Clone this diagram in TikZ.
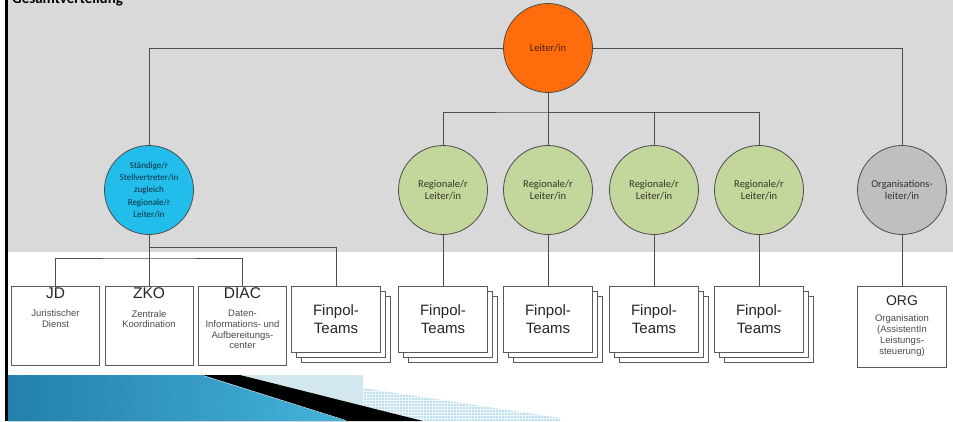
\documentclass[tikz,border=0pt]{standalone}
\usepackage{fontspec}
\setmainfont{Liberation Sans}
\newfontfamily\circlefont{Carlito}
\usetikzlibrary{positioning,shadows,patterns}

\definecolor{bandgray}{HTML}{D9D9D9}
\definecolor{edgegray}{HTML}{4D4D4D}
\definecolor{boxgray}{HTML}{5A5A5A}
\definecolor{headorange}{HTML}{FF6C0C}
\definecolor{deputycyan}{HTML}{22BDEB}
\definecolor{regiongreen}{HTML}{C3D69B}
\definecolor{orggray}{HTML}{BFBFBF}
\definecolor{stripeblue}{HTML}{1E78A4}
\definecolor{stripelight}{HTML}{45B4DA}
\definecolor{paleblue}{HTML}{D3E7EF}
\definecolor{checkblue}{HTML}{BFE0EE}

\begin{document}
\begin{tikzpicture}[
    x=1pt, y=-1pt,
    link/.style={draw=edgegray, line width=0.9pt},
    person/.style={draw=edgegray, circle, line width=0.8pt, minimum size=89pt, inner sep=0pt, align=center, font=\circlefont\fontsize{10.5}{11.5}\selectfont},
    headcircle/.style={person, fill=headorange, text=black!70!headorange},
    deputycircle/.style={person, fill=deputycyan, text=black!75!deputycyan, font=\circlefont\fontsize{9}{12.2}\selectfont},
    regioncircle/.style={person, fill=regiongreen, text=black!75!regiongreen},
    orgcircle/.style={person, fill=orggray, text=black!80},
    unitbox/.style={draw=boxgray, fill=white, line width=0.8pt, minimum width=88pt, minimum height=79pt, inner sep=0pt},
    unithead/.style={inner sep=0pt, font=\fontsize{15.5}{16}\selectfont, text=black!85},
    unitsub/.style={inner sep=0pt, align=center, font=\fontsize{9.5}{10.7}\selectfont, text=black!70},
    teams/.style={unitbox, minimum width=89pt, minimum height=66pt, align=center, font=\fontsize{15}{17.3}\selectfont, text=black!85,
        copy shadow={shadow xshift=10pt, shadow yshift=-10pt, draw=boxgray, fill=white, line width=0.8pt},
        copy shadow={shadow xshift=5pt, shadow yshift=-5pt, draw=boxgray, fill=white, line width=0.8pt}}
]
\useasboundingbox (0,0) rectangle (953,421);
\clip (0,0) rectangle (953,421);
\fill[white] (0,0) rectangle (953,421);
\fill[bandgray] (8,0) rectangle (953,252);
\draw[black, line width=3pt] (6.5,0) -- (6.5,421);
\node[anchor=base west, inner sep=0pt, font=\circlefont\bfseries\fontsize{15}{15}\selectfont] (title) at (12,3.5) {Gesamtverteilung};

% footer band
\fill[left color=stripeblue, right color=stripelight] (8,375) -- (202,375) -- (347,421) -- (8,421) -- cycle;
\fill[pattern=north west lines, pattern color=stripelight, opacity=0.45] (8,375) -- (202,375) -- (347,421) -- (8,421) -- cycle;
\fill[paleblue] (240,375) -- (363,375) -- (363,406) -- cycle;
\fill[checkblue] (363,388) -- (560,418) -- (560,421) -- (423,421) -- (363,406) -- cycle;
\fill[pattern=grid, pattern color=white, opacity=0.7] (363,388) -- (560,418) -- (560,421) -- (423,421) -- (363,406) -- cycle;
\fill[black] (202,375) -- (240,375) -- (423,421) -- (347,421) -- cycle;
\draw[white!60!stripelight, line width=0.6pt] (203,375.5) -- (346,420.5);

\node[headcircle] (head) at (548,48) {Leiter/in};
\node[deputycircle] (deputy) at (149,190) {Ständige/r\\Stellvertreter/in\\zugleich\\Regionale/r\\Leiter/in};
\node[regioncircle] (reg1) at (443,190) {Regionale/r\\Leiter/in};
\node[regioncircle] (reg2) at (548,190) {Regionale/r\\Leiter/in};
\node[regioncircle] (reg3) at (654,190) {Regionale/r\\Leiter/in};
\node[regioncircle] (reg4) at (759,190) {Regionale/r\\Leiter/in};
\node[orgcircle] (orglead) at (902,190) {Organisations-\\leiter/in};

\node[unitbox] (jd) at (55.5,325.5) {};
\node[unithead, below=2pt of jd.north] (jdhead) {JD};
\node[unitsub, below=11pt of jdhead] (jdsub) {Juristischer\\Dienst};
\node[unitbox] (zko) at (149,325.5) {};
\node[unithead, below=2pt of zko.north] (zkohead) {ZKO};
\node[unitsub, below=11pt of zkohead] (zkosub) {Zentrale\\Koordination};
\node[unitbox] (diac) at (242.5,325.5) {};
\node[unithead, below=2pt of diac.north] (diachead) {DIAC};
\node[unitsub, below=11pt of diachead] (diacsub) {Daten-\\Informations- und\\Aufbereitungs-\\center};

\node[teams] (team0) at (336,319) {Finpol-\\Teams};
\node[teams] (team1) at (443,319) {Finpol-\\Teams};
\node[teams] (team2) at (548,319) {Finpol-\\Teams};
\node[teams] (team3) at (654,319) {Finpol-\\Teams};
\node[teams] (team4) at (759,319) {Finpol-\\Teams};

\node[unitbox, minimum width=89pt, minimum height=81pt] (org) at (902,326.5) {};
\node[unithead, font=\fontsize{14}{14}\selectfont, below=10pt of org.north] (orghead) {ORG};
\node[unitsub, font=\fontsize{9.5}{11}\selectfont, below=8pt of orghead] (orgsub) {Organisation\\(AssistentIn\\Leistungs-\\steuerung)};

\coordinate (regbar) at (548,112);
\coordinate (deputybar) at (149,247);
\coordinate (staffbar) at (149,258);

\draw[link] (head) -| (deputy);
\draw[link] (head) -| (orglead);
\draw[link] (head) -- (reg2);
\draw[link] (reg1) |- (regbar) -| (reg4);
\draw[link] (regbar) -| (reg3);
\draw[link] (reg1) -- (team1);
\draw[link] (reg2) -- (team2);
\draw[link] (reg3) -- (team3);
\draw[link] (reg4) -- (team4);
\draw[link] (orglead) -- (org);
\draw[link] (deputy) -- (zko);
\draw[link] (deputybar) -| (team0);
\draw[link] (jd) |- (staffbar) -| (diac);
\end{tikzpicture}
\end{document}
